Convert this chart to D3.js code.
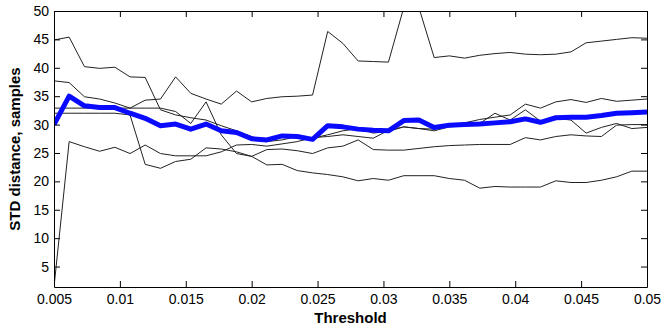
<!DOCTYPE html>
<html>
<head>
<meta charset="utf-8">
<script src="https://cdn.jsdelivr.net/npm/d3@7"></script>
<style>
  body { margin: 0; background: #fff; }
  svg { display: block; font-family: "Liberation Sans", Arial, sans-serif; }
</style>
</head>
<body>
<div id="chart"></div>
<script>
// threshold values (x)
var thresholds = [0.005, 0.00615, 0.00731, 0.00846, 0.00962, 0.01077, 0.01192, 0.01308, 0.01423, 0.01538,
  0.01654, 0.01769, 0.01885, 0.02, 0.02115, 0.02231, 0.02346, 0.02462, 0.02577, 0.02692,
  0.02808, 0.02923, 0.03038, 0.03154, 0.03269, 0.03385, 0.035, 0.03615, 0.03731, 0.03846,
  0.03962, 0.04077, 0.04192, 0.04308, 0.04423, 0.04538, 0.04654, 0.04769, 0.04885, 0.05];

// individual runs (thin lines)
var run1 = [44.9, 45.4, 40.2, 39.9, 40.1, 38.4, 38.3, 32.6, 31.7, 31.2, 30.8, 29.8, 28.9, 27.9, 27.0, 27.3, 27.9, 27.6, 28.2, 28.9,
  29.3, 28.5, 28.8, 29.6, 29.3, 29.2, 29.8, 30.3, 30.9, 31.3, 31.7, 33.6, 32.9, 34.0, 34.4, 33.9, 34.6, 34.1, 34.3, 34.5];
var run2 = [37.7, 37.4, 34.9, 34.5, 33.8, 32.9, 34.3, 34.5, 38.4, 35.5, 34.5, 33.6, 35.9, 34.0, 34.6, 34.9, 35.0, 35.2, 46.4, 44.3,
  41.2, 41.1, 41.0, 50.6, 50.6, 41.8, 42.1, 41.7, 42.2, 42.5, 42.7, 42.4, 42.3, 42.4, 42.8, 44.4, 44.7, 45.0, 45.3, 45.2];
var run3 = [32.9, 32.9, 32.9, 32.9, 32.9, 32.9, 32.9, 32.9, 32.3, 30.2, 34.0, 28.2, 24.9, 24.4, 22.9, 23.0, 21.9, 21.5, 21.2, 20.8,
  20.1, 20.5, 20.2, 21.0, 21.0, 21.0, 20.5, 20.2, 18.8, 19.1, 19.0, 19.0, 19.0, 20.1, 19.8, 19.8, 20.2, 20.8, 21.8, 21.8];
var run4 = [32.0, 32.0, 32.0, 32.0, 32.0, 31.7, 23.0, 22.3, 23.5, 23.9, 25.9, 25.7, 25.2, 24.4, 25.6, 25.7, 25.4, 24.9, 25.9, 26.2,
  27.3, 25.6, 25.5, 25.5, 25.8, 26.1, 26.3, 26.4, 26.5, 26.5, 26.5, 27.7, 27.3, 27.9, 28.2, 28.0, 27.9, 29.9, 30.0, 30.0];
var run5 = [1.4, 27.0, 26.1, 25.3, 26.0, 24.9, 26.4, 24.9, 24.5, 24.5, 24.5, 25.2, 26.4, 26.5, 26.2, 26.6, 27.0, 27.7, 27.9, 28.2,
  27.9, 27.6, 29.0, 29.6, 29.3, 28.9, 29.6, 29.8, 30.2, 32.0, 30.8, 32.6, 30.6, 31.1, 30.8, 28.5, 29.5, 30.2, 29.3, 29.5];

// mean (thick blue line)
var meanStd = [30.0, 35.0, 33.3, 33.0, 33.0, 32.0, 31.1, 29.8, 30.1, 29.2, 30.1, 28.9, 28.6, 27.5, 27.3, 28.0, 27.9, 27.4, 29.8, 29.6,
  29.2, 29.0, 28.9, 30.7, 30.8, 29.5, 29.9, 30.0, 30.1, 30.3, 30.5, 31.0, 30.4, 31.2, 31.3, 31.3, 31.6, 32.0, 32.1, 32.2];

var xTicks = [0.005, 0.01, 0.015, 0.02, 0.025, 0.03, 0.035, 0.04, 0.045, 0.05];
var xTickLabels = ["0.005", "0.01", "0.015", "0.02", "0.025", "0.03", "0.035", "0.04", "0.045", "0.05"];
var yTicks = [5, 10, 15, 20, 25, 30, 35, 40, 45, 50];

var runs = [run1, run2, run3, run4, run5];

var width = 664, height = 330;
var margin = { top: 11, right: 17, bottom: 43, left: 54 };
var w = width - margin.left - margin.right;
var h = height - margin.top - margin.bottom;

var svg = d3.select("#chart").append("svg")
  .attr("width", width)
  .attr("height", height);

svg.append("rect").attr("width", width).attr("height", height).attr("fill", "#fff");

var g = svg.append("g")
  .attr("transform", "translate(" + margin.left + "," + margin.top + ")");

var yMin = d3.min(runs, function (r) { return d3.min(r); });

var x = d3.scaleLinear().domain([0.005, 0.05]).range([0, w]);
var y = d3.scaleLinear().domain([yMin, 50]).range([h, 0]);

g.append("clipPath").attr("id", "plotclip")
  .append("rect").attr("width", w).attr("height", h);

var line = d3.line()
  .x(function (d, i) { return x(thresholds[i]); })
  .y(function (d) { return y(d); });

var plot = g.append("g").attr("clip-path", "url(#plotclip)");

plot.selectAll("path.run")
  .data(runs)
  .enter()
  .append("path")
  .attr("class", "run")
  .attr("d", line)
  .attr("fill", "none")
  .attr("stroke", "#222")
  .attr("stroke-width", 1);

plot.append("path")
  .attr("d", line(meanStd))
  .attr("fill", "none")
  .attr("stroke", "#0a0aff")
  .attr("stroke-width", 5)
  .attr("stroke-linejoin", "round");

// axes, ticks pointing inwards
var fmt = function (d, i) { return xTickLabels[i]; };

g.append("g")
  .attr("transform", "translate(0," + h + ")")
  .call(d3.axisBottom(x).tickValues(xTicks).tickFormat(fmt).tickSize(-6).tickSizeOuter(0).tickPadding(7.5));

g.append("g")
  .call(d3.axisTop(x).tickValues(xTicks).tickFormat("").tickSize(-6).tickSizeOuter(0));

g.append("g")
  .call(d3.axisLeft(y).tickValues(yTicks).tickSize(-6).tickSizeOuter(0).tickPadding(5));

g.append("g")
  .attr("transform", "translate(" + w + ",0)")
  .call(d3.axisRight(y).tickValues(yTicks).tickFormat("").tickSize(-6).tickSizeOuter(0));

g.selectAll(".tick text")
  .attr("fill", "#000")
  .style("font-size", "14px")
  .style("font-family", "'Liberation Sans', Arial, sans-serif");
g.selectAll(".domain, .tick line").attr("stroke", "#000");

// axis titles
g.append("text")
  .attr("x", w / 2)
  .attr("y", h + 36)
  .attr("text-anchor", "middle")
  .style("font-size", "15px")
  .style("font-weight", "bold")
  .text("Threshold");

g.append("text")
  .attr("transform", "translate(" + (20 - margin.left) + "," + (h / 2) + ") rotate(-90)")
  .attr("text-anchor", "middle")
  .style("font-size", "15px")
  .style("font-weight", "bold")
  .text("STD distance, samples");
</script>
</body>
</html>
